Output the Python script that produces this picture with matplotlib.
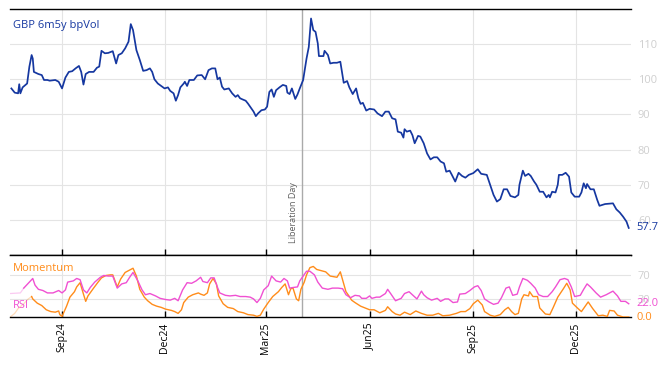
import pandas as pd
import matplotlib
matplotlib.use("Agg")
import matplotlib.pyplot as plt
import matplotlib.dates as mdates

plt.rcParams['font.family'] = ['Open Sans', 'DejaVu Sans']

# 起始日期 (day offsets are counted from here)
start = pd.Timestamp('2024-07-17')
lib_day = pd.Timestamp('2025-04-02')

# GBP 6m5y bpVol
vol_days = [1, 4, 7, 8, 9, 11, 15, 17, 19, 20,
            21, 25, 28, 30, 33, 35, 40, 43, 46, 49,
            52, 55, 58, 61, 63, 65, 67, 70, 74, 77,
            79, 81, 84, 87, 91, 94, 96, 99, 102, 105,
            107, 109, 112, 115, 118, 121, 124, 126, 128, 131,
            134, 137, 140, 142, 145, 147, 149, 151, 154, 155,
            157, 159, 163, 166, 170, 173, 176, 179, 182, 184,
            186, 188, 190, 194, 197, 200, 202, 204, 206, 209,
            211, 214, 216, 218, 220, 223, 226, 228, 230, 232,
            234, 236, 239, 242, 245, 246, 248, 250, 251, 253,
            255, 257, 260, 263, 265, 267, 269, 271, 273, 274,
            278, 279, 282, 284, 287,
            290, 293, 296, 299, 301, 304, 307, 309, 311, 313,
            316, 319, 323, 326, 330, 333, 336, 339, 342, 344,
            347, 349, 350, 352, 355, 357, 359, 362, 364, 367,
            370, 373, 376, 379, 382, 385, 387, 390, 392, 395,
            398, 401, 404, 407, 411, 415, 418, 423, 425, 429,
            432, 435, 438, 441, 444, 448, 451, 452, 455, 457,
            460, 462, 465, 467, 470, 473, 476, 478, 479, 481,
            484, 486, 487, 490, 493, 496, 498, 501, 505, 507,
            509, 511, 512, 515, 518, 521, 523, 528, 535, 538,
            541, 544, 547, 549]
vol = [97.4, 96.2, 96.0, 98.6, 96.0, 97.7, 98.8, 103.6, 106.9, 105.9,
       102.1, 101.5, 101.2, 99.8, 99.8, 99.6, 99.8, 99.3, 97.4, 100.5,
       102.1, 102.3, 103.1, 103.8, 102.1, 98.5, 101.5, 102.1, 102.1, 103.3,
       103.6, 108.1, 107.4, 107.5, 108.0, 104.5, 106.9, 107.4, 108.8, 110.7,
       115.7, 114.0, 108.3, 105.5, 102.4, 102.6, 103.1, 102.1, 100.0, 98.8,
       98.1, 97.4, 97.7, 96.7, 96.0, 93.9, 95.5, 97.7, 98.8, 99.3,
       98.1, 99.8, 99.8, 101.1, 101.2, 100.0, 102.6, 103.1, 103.1, 100.0,
       100.5, 97.9, 97.1, 97.4, 96.0, 95.0, 95.5, 94.6, 94.3, 93.9,
       93.1, 91.7, 90.8, 89.5, 90.3, 91.2, 91.4, 92.2, 96.4, 97.1,
       95.0, 96.9, 97.7, 98.4, 98.1, 96.2, 95.8, 97.4, 96.4, 94.4,
       95.7, 97.4, 99.8, 105.9, 109.2, 117.3, 114.0, 113.5, 110.2, 106.6,
       106.6, 108.1, 106.9, 104.5, 104.7,
       104.7, 105.0, 99.0, 99.5, 97.7, 95.8, 97.4, 94.6, 93.0, 93.3,
       91.1, 91.6, 91.4, 90.3, 89.5, 90.8, 90.8, 88.9, 88.6, 85.1,
       84.8, 83.4, 85.8, 85.1, 85.4, 84.1, 81.8, 83.9, 83.7, 81.8,
       78.9, 77.2, 77.8, 77.8, 76.6, 76.1, 73.7, 74.0, 72.8, 70.9,
       73.4, 72.5, 72.0, 72.8, 73.3, 74.4, 73.1, 72.8, 70.9, 67.1,
       65.2, 65.9, 68.7, 68.7, 66.8, 66.4, 67.1, 70.0, 74.0, 72.5,
       73.1, 72.5, 70.9, 70.0, 68.0, 68.0, 66.4, 67.1, 66.4, 68.0,
       67.8, 70.0, 72.8, 72.8, 73.4, 72.3, 67.8, 66.6, 66.6, 67.8,
       70.4, 69.0, 70.2, 68.7, 68.7, 65.7, 64.0, 64.5, 64.7, 63.0,
       62.1, 60.9, 59.5, 57.7]

# Momentum
mom_days = [0, 4, 7, 12, 16, 19, 20, 24, 28, 32,
            36, 40, 43, 44, 46, 50, 53, 57, 59, 62,
            65, 67, 69, 74, 78, 81, 85, 89, 91, 95,
            98, 102, 106, 109, 112, 115, 119, 122, 126, 130,
            134, 138, 143, 146, 149, 152, 154, 158, 162, 167,
            169, 172, 175, 177, 180, 183, 185, 189, 193, 198,
            202, 207, 211, 216, 219, 222, 225, 229, 233, 238,
            241, 244, 247, 249, 251, 254, 256, 258, 261, 263,
            266, 269, 272, 276, 280, 284, 287, 290, 293, 295,
            298, 301, 303, 306, 311, 315, 319, 323, 326, 328,
            333, 335, 339, 342, 346, 350, 355, 360, 365, 370,
            375, 380, 384, 390, 396, 400, 404, 408, 411, 415,
            419, 421, 426, 430, 435, 439, 442, 445, 448, 451,
            454, 456, 460, 461, 464, 468, 470, 475, 479, 482,
            486, 491, 494, 497, 499, 504, 507, 513, 517, 522,
            526, 530, 532, 536, 539, 544, 549]
mom = [0, 6, 14, 22, 30, 34, 30, 23, 19, 12,
       9, 8, 10, 4, 1, 18, 33, 42, 50, 57,
       38, 26, 35, 48, 58, 65, 69, 70, 70, 50,
       63, 74, 78, 81, 68, 46, 33, 27, 21, 18,
       16, 13, 11, 9, 6, 12, 24, 33, 37, 40,
       38, 36, 40, 55, 64, 55, 35, 22, 16, 14,
       9, 7, 4, 3, 1, 3, 13, 24, 34, 42,
       49, 55, 37, 47, 48, 30, 27, 46, 58, 70,
       82, 84, 79, 77, 75, 68, 67, 66, 75, 62,
       42, 34, 28, 24, 18, 15, 12, 12, 9, 7,
       11, 17, 9, 5, 3, 8, 4, 10, 6, 3,
       3, 6, 2, 3, 6, 9, 9, 14, 22, 28,
       20, 9, 3, 1, 4, 12, 16, 9, 4, 6,
       30, 37, 35, 42, 34, 34, 15, 5, 4, 16,
       33, 47, 56, 45, 23, 14, 9, 25, 14, 2,
       3, 1, 11, 10, 3, 0, 0]
mom_warm = 6

# RSI
rsi_days = [0, 9, 12, 16, 20, 22, 25, 29, 33, 38,
            43, 46, 49, 51, 56, 59, 62, 65, 68, 71,
            75, 80, 83, 87, 91, 95, 99, 103, 106, 109,
            113, 117, 120, 124, 129, 133, 138, 142, 146, 149,
            153, 157, 161, 165, 169, 171, 175, 178, 181, 184,
            186, 191, 195, 200, 204, 209, 213, 216, 219, 222,
            225, 229, 232, 236, 240, 243, 246, 248, 251, 255,
            257, 260, 263, 266, 270, 273, 277, 282, 286, 291,
            295, 298, 302, 306, 310, 312, 316, 319, 321, 325,
            328, 333, 335, 338, 342, 347, 350, 354, 358, 361,
            365, 367, 370, 374, 379, 382, 386, 389, 393, 397,
            399, 404, 408, 412, 415, 418, 421, 425, 429, 433,
            436, 440, 443, 446, 450, 452, 455, 459, 462, 466,
            469, 473, 477, 481, 484, 488, 492, 495, 498, 501,
            506, 509, 512, 515, 520, 524, 529, 532, 535, 539,
            542, 546, 549]
rsi = [39, 40, 48, 56, 64, 53, 46, 44, 40, 40,
       44, 40, 45, 58, 60, 64, 62, 45, 40, 49,
       58, 66, 69, 68, 68, 48, 55, 57, 66, 74,
       61, 45, 37, 39, 35, 31, 29, 28, 31, 27,
       45, 57, 56, 60, 66, 59, 57, 65, 65, 49,
       40, 36, 35, 36, 34, 34, 33, 30, 24, 31,
       45, 52, 68, 60, 58, 64, 60, 48, 49, 50,
       60, 68, 76, 76, 70, 58, 48, 46, 48, 48,
       47, 37, 32, 36, 35, 31, 31, 35, 31, 33,
       33, 39, 46, 38, 27, 31, 39, 42, 35, 30,
       43, 37, 32, 28, 31, 26, 30, 30, 24, 25,
       38, 39, 44, 50, 52, 44, 30, 25, 21, 23,
       32, 48, 50, 36, 38, 50, 64, 61, 56, 48,
       37, 34, 34, 42, 50, 62, 64, 62, 50, 34,
       36, 46, 55, 50, 40, 33, 37, 40, 43, 35,
       26, 26, 22.0]
rsi_warm = 3

BLUE = '#1537a0'
ORANGE = '#ff8c1a'
PINK = '#f050d2'
GRID = '#e4e4e4'
TICKGREY = '#cfcfcf'


def to_dates(days):
    return start + pd.to_timedelta(days, unit='D')


vol_x = to_dates(vol_days)
mom_x = to_dates(mom_days)
rsi_x = to_dates(rsi_days)

W, H = 668, 366
fig = plt.figure(figsize=(W / 100, H / 100), dpi=100)
ax1 = fig.add_axes([10 / W, 1 - 255 / H, 621 / W, 246 / H])
ax2 = fig.add_axes([10 / W, 1 - 317 / H, 621 / W, 62 / H], sharex=ax1)

# 上图
ax1.plot(vol_x, vol, color=BLUE, lw=1.25, zorder=3)
ax1.set_ylim(50, 120)
ax1.set_yticks([60, 70, 80, 90, 100, 110])

# 下图 (warm-up part drawn faint)
ax2.plot(mom_x[:mom_warm], mom[:mom_warm], color=ORANGE, lw=0.9, alpha=0.3)
ax2.plot(mom_x[mom_warm - 1:], mom[mom_warm - 1:], color=ORANGE, lw=1.0, zorder=3)
ax2.plot(rsi_x[:rsi_warm], rsi[:rsi_warm], color=PINK, lw=0.9, alpha=0.3)
ax2.plot(rsi_x[rsi_warm - 1:], rsi[rsi_warm - 1:], color=PINK, lw=1.0, zorder=3)
ax2.set_ylim(0, 103)
ax2.set_yticks([30, 70])

ax1.set_xlim(start - pd.Timedelta(days=0.2), start + pd.Timedelta(days=551))
ax2.xaxis.set_major_locator(mdates.MonthLocator(bymonth=[3, 6, 9, 12]))
ax2.xaxis.set_major_formatter(mdates.DateFormatter('%b%y'))

for ax in (ax1, ax2):
    ax.grid(True, color=GRID, lw=0.8, zorder=0)
    ax.set_axisbelow(True)
    for s in ('left', 'right'):
        ax.spines[s].set_visible(False)
    for s in ('top', 'bottom'):
        ax.spines[s].set_linewidth(1.0)
        ax.spines[s].set_color('black')
    ax.yaxis.tick_right()
    ax.tick_params(axis='y', length=0, pad=5, labelsize=8, labelcolor=TICKGREY)
    ax.tick_params(axis='x', direction='in', length=4, width=1, color='black')
    ax.axvline(lib_day, color='#aaaaaa', lw=1.0, zorder=2)

ax1.tick_params(axis='x', labelbottom=False)
ax2.tick_params(axis='x', labelsize=7.5, labelrotation=90, pad=4)

# 文字
ax1.text(0.005, 0.931, 'GBP 6m5y bpVol', transform=ax1.transAxes,
         color=BLUE, fontsize=8, va='center', ha='left')
ax1.annotate('Liberation Day', xy=(lib_day, 53.5), xytext=(-3, 0),
             textcoords='offset points', rotation=90, ha='right', va='bottom',
             fontsize=6.5, color='#606060')
ax2.text(0.005, 0.79, 'Momentum', transform=ax2.transAxes,
         color=ORANGE, fontsize=8, va='center', ha='left')
ax2.text(0.005, 0.18, 'RSI', transform=ax2.transAxes,
         color=PINK, fontsize=8, va='center', ha='left')

# 最新值标签
for ax, last, col in ((ax1, vol[-1], BLUE), (ax2, rsi[-1], PINK), (ax2, mom[-1], ORANGE)):
    ax.annotate(f'{last:.1f}', xy=(1, last), xycoords=('axes fraction', 'data'),
                xytext=(4, 0), textcoords='offset points', va='center', ha='left',
                fontsize=8, color=col, annotation_clip=False)

fig.savefig('out.png', dpi=100)
